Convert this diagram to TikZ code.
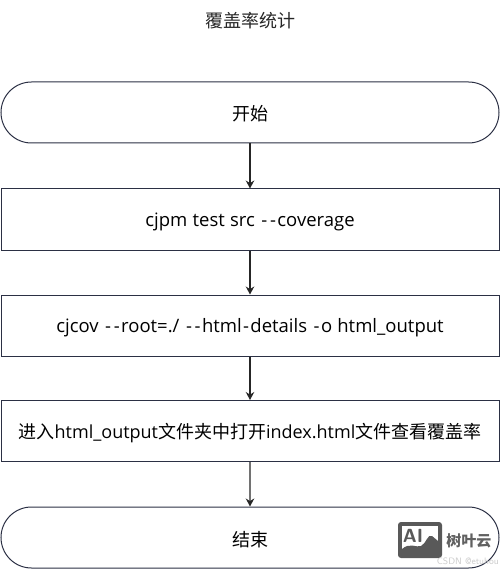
\documentclass[tikz,border=0pt]{standalone}
\usepackage{fontspec}
\usetikzlibrary{arrows.meta,positioning,shapes.misc}
\setmainfont{Open Sans}
\newfontfamily\cjk{Noto Sans CJK SC}
\definecolor{linecol}{HTML}{2B3044}
\newcommand{\hy}{\kern1.35pt{-}\kern1.35pt}
\newcommand{\gp}{\hskip5.2pt\relax}

\begin{document}
\begin{tikzpicture}[
  x=1pt, y=-1pt,
  flow_box/.style={rectangle, draw=linecol, line width=1pt, minimum width=498pt,
                   minimum height=61pt, inner sep=0pt, text height=17pt, text depth=0pt,
                   font=\fontsize{18}{22}\selectfont},
  code_box/.style={flow_box, text height=13pt, font=\fontsize{18.5}{22}\selectfont},
  term_box/.style={flow_box, rounded rectangle},
  arrow/.style={-{Stealth[length=8pt,width=8.5pt]}, line width=1.2pt, black!85},
  title_label/.style={font=\cjk\fontsize{18}{22}\selectfont, text=black!85},
  mark_label/.style={font=\cjk\bfseries\fontsize{15}{16}\selectfont, text=black!62}
]

\useasboundingbox (0,0) rectangle (500,569);

% Title
\node[title_label] (title) at (250,21) {覆盖率统计};

% Flow boxes
\node[term_box] (start) at (250,112.5) {\cjk 开始};
\node[code_box] (cover) at (250,219.5) {cjpm\gp test\gp src\gp\hy\hy coverage};
\node[code_box] (report) at (250,325.5) {cjcov\gp\hy\hy root=./\gp\hy\hy html\hy details\gp\hy o\gp html\_output};
\node[flow_box,text height=15.5pt] (view) at (250,431) {{\cjk 进入}html\_output{\cjk 文件夹中打开}index.html{\cjk 文件查看覆盖率}};
\node[term_box] (finish) at (250,537.5) {\cjk 结束};

% Connections
\foreach \a/\b in {start/cover,cover/report,report/view,view/finish}{
  \draw[arrow] (\a) -- (\b);
}

% Watermark
\node[rectangle, rounded corners=3pt, fill=black!65, minimum width=44pt, minimum height=36pt,
      inner sep=0pt] (logo) at (420,540) {};
\fill[white] (402,526) rectangle (438,553);
\fill[black!65] (402,553) -- (402,549) .. controls (410,542) and (416,548) .. (421,546)
  .. controls (426,544) and (428,533) .. (432,536) -- (438,541) -- (438,553) -- cycle;
\node[font=\sffamily\bfseries\fontsize{19}{19}\selectfont, text=black!65, inner sep=0pt] (logotext) at (413,536) {AI};
\node[mark_label, right=4pt of logo, yshift=-1pt, inner sep=0pt] (marktext) {树叶云};
\node[font=\sffamily\fontsize{9.3}{9}\selectfont, text=black!20, anchor=east, inner sep=0pt] (csdn) at (499,561) {CSDN @etuhou};

\end{tikzpicture}
\end{document}
